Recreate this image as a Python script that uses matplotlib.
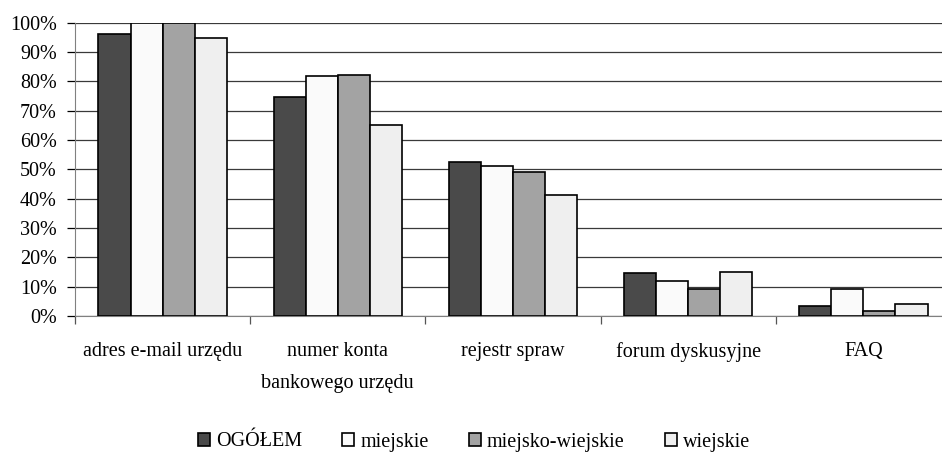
import numpy as np
import matplotlib.pyplot as plt

plt.rcParams["font.family"] = "serif"
plt.rcParams["font.serif"] = ["Liberation Serif", "DejaVu Serif"]

categories = ["adres e-mail urzędu", "numer konta\nbankowego urzędu", "rejestr spraw",
              "forum dyskusyjne", "FAQ"]
series = ["OGÓŁEM", "miejskie", "miejsko-wiejskie", "wiejskie"]
ogolem = [96.0, 74.7, 52.4, 14.5, 3.3]
miejskie = [100.0, 81.8, 51.3, 11.9, 9.3]
miejsko_wiejskie = [100.0, 82.0, 49.2, 9.3, 1.8]
wiejskie = [94.7, 65.2, 41.1, 15.1, 4.0]
colors = ["#4a4a4a", "#fafafa", "#a3a3a3", "#efefef"]

values = [ogolem, miejskie, miejsko_wiejskie, wiejskie]
fs = 14.5

fig = plt.figure(figsize=(9.42, 4.55), dpi=100)
ax = fig.add_axes([75/942, 139/455, 876/942, 293.3/455])

x = np.arange(len(categories)) + 0.5
w = 0.183
for i, (name, vals) in enumerate(zip(series, values)):
    ax.bar(x + (i - 1.5) * w, vals, w, color=colors[i], edgecolor="black",
           linewidth=1.2, label=name, zorder=3)

ax.set_xlim(0, len(categories))
ax.set_ylim(0, 100)

ax.set_yticks(np.arange(0, 101, 10))
ax.set_yticklabels([f"{v}%" for v in range(0, 101, 10)])
ax.yaxis.grid(True, color="#3a3a3a", linewidth=0.9, zorder=0)
ax.tick_params(axis="y", direction="out", length=6, width=0.9, pad=7,
               labelsize=fs, color="black")

ax.set_xticks(np.arange(0, len(categories) + 1))
ax.set_xticklabels([])
ax.set_xticks(x, minor=True)
ax.set_xticklabels(categories, minor=True, linespacing=1.9)
ax.tick_params(axis="x", which="major", direction="out", length=6, width=0.9, color="#555555")
ax.tick_params(axis="x", which="minor", length=0, pad=19, labelsize=fs)

for s in ["top", "right"]:
    ax.spines[s].set_visible(False)
ax.spines["left"].set_color("#808080")
ax.spines["bottom"].set_color("#808080")

fig.legend(loc="center", bbox_to_anchor=(474/942, 13/455), ncol=4, frameon=False,
           fontsize=fs, handlelength=0.6, handleheight=0.6, handletextpad=0.3,
           columnspacing=2.0, borderpad=0)

fig.savefig("out.png", dpi=100)
